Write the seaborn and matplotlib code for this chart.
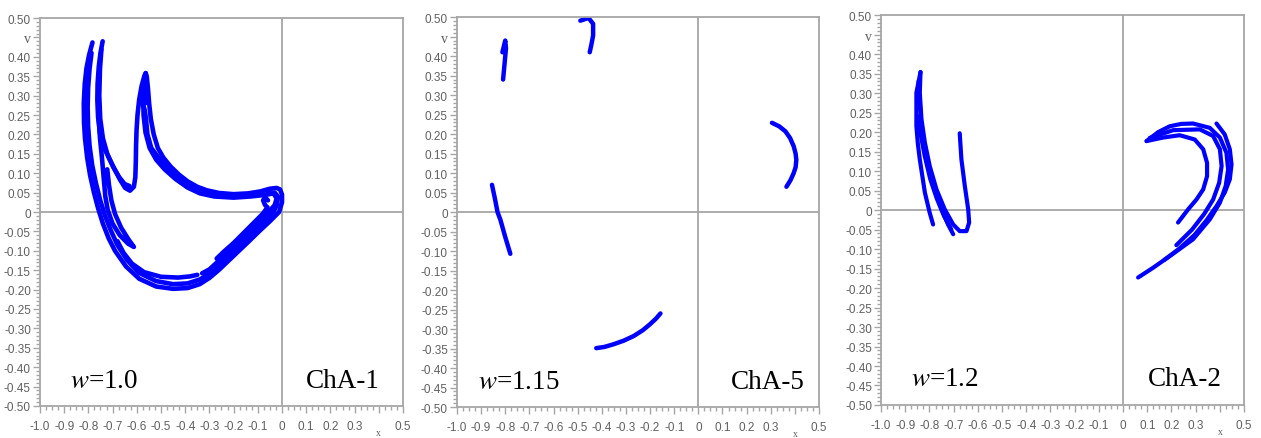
import matplotlib
matplotlib.use("Agg")

import matplotlib.pyplot as plt
import numpy as np
import pandas as pd
import seaborn as sns
from matplotlib.ticker import FixedLocator, MultipleLocator


# ---- data: (x, y) points of each strand ----

# w = 1.0, ChA-1
p1_outer = [
    (-0.783, 0.437), (-0.797, 0.405), (-0.808, 0.37), (-0.815, 0.33), (-0.819, 0.28),
    (-0.818, 0.23), (-0.814, 0.19), (-0.805, 0.14), (-0.793, 0.095), (-0.777, 0.05),
    (-0.76, 0.01), (-0.74, -0.03), (-0.716, -0.068), (-0.69, -0.1), (-0.645, -0.14),
    (-0.59, -0.172), (-0.52, -0.192), (-0.45, -0.198), (-0.39, -0.196), (-0.34, -0.186),
    (-0.30, -0.17), (-0.262, -0.15), (-0.22, -0.125), (-0.178, -0.1), (-0.136, -0.075),
    (-0.095, -0.05), (-0.052, -0.025), (-0.012, 0.0), (0.0, 0.025), (0.0, 0.045),
    (-0.008, 0.058), (-0.022, 0.062), (-0.05, 0.06), (-0.09, 0.053), (-0.14, 0.048),
    (-0.2, 0.046), (-0.26, 0.049), (-0.311, 0.056), (-0.35, 0.065), (-0.39, 0.079),
    (-0.425, 0.096), (-0.46, 0.117), (-0.49, 0.14), (-0.513, 0.165), (-0.53, 0.2),
    (-0.542, 0.24), (-0.549, 0.28), (-0.554, 0.32), (-0.559, 0.35), (-0.563, 0.358),
]
p1_second = [
    (-0.787, 0.41), (-0.795, 0.37), (-0.801, 0.32), (-0.803, 0.27), (-0.801, 0.22),
    (-0.795, 0.17), (-0.784, 0.12), (-0.769, 0.075), (-0.751, 0.03), (-0.731, -0.01),
    (-0.707, -0.048), (-0.68, -0.085), (-0.64, -0.124), (-0.59, -0.157), (-0.52, -0.178),
    (-0.45, -0.186), (-0.39, -0.184), (-0.34, -0.174), (-0.31, -0.163), (-0.285, -0.15),
    (-0.243, -0.125), (-0.2, -0.1), (-0.158, -0.075), (-0.117, -0.05), (-0.075, -0.025),
    (-0.035, 0.0), (-0.02, 0.02), (-0.017, 0.04), (-0.03, 0.05), (-0.06, 0.05),
]
p1_u = [
    (-0.741, 0.44), (-0.75, 0.41), (-0.757, 0.375), (-0.762, 0.33), (-0.763, 0.289),
    (-0.76, 0.245), (-0.752, 0.203), (-0.735, 0.165), (-0.711, 0.134), (-0.69, 0.108),
    (-0.669, 0.083), (-0.648, 0.062), (-0.628, 0.055), (-0.612, 0.065), (-0.606, 0.09),
    (-0.604, 0.13), (-0.603, 0.17), (-0.601, 0.21), (-0.597, 0.25), (-0.59, 0.29),
    (-0.58, 0.325), (-0.568, 0.352), (-0.563, 0.358), (-0.569, 0.33), (-0.573, 0.29),
    (-0.572, 0.25), (-0.564, 0.205), (-0.547, 0.165), (-0.52, 0.135), (-0.485, 0.11),
    (-0.44, 0.085), (-0.39, 0.063), (-0.339, 0.048), (-0.28, 0.04), (-0.2, 0.037),
    (-0.13, 0.04), (-0.07, 0.044), (-0.035, 0.048), (-0.022, 0.035), (-0.03, 0.018),
    (-0.055, 0.0), (-0.097, -0.025), (-0.14, -0.05), (-0.18, -0.075), (-0.22, -0.1),
    (-0.26, -0.125), (-0.3, -0.148), (-0.33, -0.158),
]
p1_u2 = [
    (-0.746, 0.42), (-0.752, 0.37), (-0.755, 0.3), (-0.751, 0.24), (-0.74, 0.19),
    (-0.722, 0.15), (-0.698, 0.117), (-0.673, 0.09), (-0.65, 0.072), (-0.63, 0.067),
]
p1_hook = [
    (-0.757, 0.24), (-0.752, 0.19), (-0.744, 0.14), (-0.737, 0.09), (-0.73, 0.04),
    (-0.72, 0.005), (-0.70, -0.03), (-0.67, -0.06), (-0.635, -0.082), (-0.612, -0.09),
    (-0.635, -0.07), (-0.665, -0.04), (-0.69, -0.005), (-0.705, 0.03), (-0.715, 0.07),
    (-0.722, 0.11),
]
p1_inner_bottom = [
    (-0.68, -0.075), (-0.655, -0.105), (-0.62, -0.133), (-0.57, -0.155), (-0.5, -0.167),
    (-0.43, -0.169), (-0.38, -0.166), (-0.35, -0.162),
]
p1_curl = [
    (-0.058, 0.03), (-0.07, 0.038), (-0.078, 0.03), (-0.07, 0.018), (-0.06, 0.012),
    (-0.08, -0.005), (-0.12, -0.03), (-0.16, -0.055), (-0.2, -0.08), (-0.24, -0.102),
    (-0.27, -0.12),
]
p1_blob = [
    (-0.578, 0.28), (-0.568, 0.265), (-0.562, 0.24), (-0.556, 0.2), (-0.54, 0.165),
    (-0.51, 0.14), (-0.47, 0.113), (-0.42, 0.088), (-0.37, 0.068), (-0.32, 0.055),
    (-0.26, 0.046), (-0.2, 0.042), (-0.13, 0.045), (-0.08, 0.05),
]
p1_spike_top = [(-0.572, 0.335), (-0.566, 0.31), (-0.565, 0.28)]

# w = 1.15, ChA-5
p2_left_top = [(-0.812, 0.41), (-0.80, 0.44), (-0.797, 0.42), (-0.803, 0.38), (-0.809, 0.34)]
p2_top = [(-0.489, 0.491), (-0.455, 0.498), (-0.436, 0.483), (-0.436, 0.453), (-0.443, 0.43), (-0.45, 0.41)]
p2_right = [(0.305, 0.229), (0.335, 0.22), (0.361, 0.207), (0.38, 0.19), (0.395, 0.169),
            (0.403, 0.15), (0.406, 0.134), (0.403, 0.115), (0.395, 0.10), (0.382, 0.082), (0.365, 0.065)]
p2_left = [(-0.855, 0.07), (-0.843, 0.035), (-0.832, 0.0), (-0.82, -0.02), (-0.80, -0.064), (-0.779, -0.107)]
p2_bottom = [(-0.423, -0.349), (-0.39, -0.346), (-0.351, -0.339), (-0.31, -0.33), (-0.268, -0.318),
             (-0.23, -0.303), (-0.199, -0.287), (-0.175, -0.273), (-0.157, -0.26)]

# w = 1.2, ChA-2
p3_loop = [
    (-0.675, 0.197), (-0.668, 0.13), (-0.654, 0.062), (-0.64, 0.002), (-0.636, -0.032),
    (-0.647, -0.054), (-0.675, -0.054), (-0.702, -0.037), (-0.737, 0.002), (-0.771, 0.053),
    (-0.799, 0.113), (-0.819, 0.173), (-0.833, 0.233), (-0.84, 0.301), (-0.837, 0.354),
]
p3_left = [
    (-0.837, 0.354), (-0.854, 0.301), (-0.854, 0.215), (-0.848, 0.17), (-0.84, 0.13),
    (-0.819, 0.045), (-0.799, -0.007), (-0.785, -0.037),
]
p3_middle = [
    (-0.845, 0.33), (-0.84, 0.27), (-0.833, 0.215), (-0.812, 0.13), (-0.785, 0.062),
    (-0.75, 0.002), (-0.723, -0.037), (-0.702, -0.062),
]
p3_middle2 = [
    (-0.845, 0.24), (-0.835, 0.19), (-0.82, 0.14), (-0.797, 0.08), (-0.77, 0.03),
    (-0.74, -0.015), (-0.71, -0.05),
]
p3_top = [
    (0.097, 0.177), (0.145, 0.2), (0.193, 0.215), (0.24, 0.221), (0.289, 0.222),
    (0.358, 0.211), (0.40, 0.186), (0.427, 0.147), (0.434, 0.104), (0.424, 0.062),
    (0.40, 0.019), (0.358, -0.024), (0.289, -0.075), (0.193, -0.118), (0.124, -0.148),
    (0.062, -0.173),
]
p3_outer = [
    (0.386, 0.222), (0.42, 0.194), (0.441, 0.156), (0.448, 0.117), (0.441, 0.079),
    (0.42, 0.045), (0.386, 0.01), (0.345, -0.026), (0.295, -0.064), (0.23, -0.1),
    (0.17, -0.128),
]
p3_middle_r = [
    (0.11, 0.185), (0.207, 0.205), (0.317, 0.207), (0.372, 0.19), (0.40, 0.156),
    (0.407, 0.113), (0.397, 0.07), (0.372, 0.027), (0.335, -0.01), (0.285, -0.05),
    (0.22, -0.09),
]
p3_inner = [
    (0.097, 0.177), (0.165, 0.186), (0.234, 0.192), (0.296, 0.181), (0.331, 0.156),
    (0.347, 0.121), (0.347, 0.087), (0.331, 0.053), (0.303, 0.027), (0.269, 0.002),
    (0.227, -0.032),
]

panel_strands = [
    [p1_outer, p1_second, p1_u, p1_u2, p1_hook, p1_inner_bottom, p1_curl, p1_blob, p1_spike_top],
    [p2_left_top, p2_top, p2_right, p2_left, p2_bottom],
    [p3_loop, p3_left, p3_middle, p3_middle2, p3_top, p3_outer, p3_middle_r, p3_inner],
]
w_labels = ["1.0", "1.15", "1.2"]
cha_labels = ["ChA-1", "ChA-5", "ChA-2"]

x_ticks = [-1.0, -0.9, -0.8, -0.7, -0.6, -0.5, -0.4, -0.3, -0.2, -0.1, 0.0, 0.1, 0.2, 0.3, 0.4, 0.5]
x_tick_labels = ["-1.0", "-0.9", "-0.8", "-0.7", "-0.6", "-0.5", "-0.4", "-0.3", "-0.2", "-0.1",
                 "0", "0.1", "0.2", "0.3", "", "0.5"]
y_ticks = [-0.50, -0.45, -0.40, -0.35, -0.30, -0.25, -0.20, -0.15, -0.10, -0.05, 0.0,
           0.05, 0.10, 0.15, 0.20, 0.25, 0.30, 0.35, 0.40, 0.45, 0.50]
y_tick_labels = ["-0.50", "-0.45", "-0.40", "-0.35", "-0.30", "-0.25", "-0.20", "-0.15", "-0.10",
                 "-0.05", "0", "0.05", "0.10", "0.15", "0.20", "0.25", "0.30", "0.35", "0.40",
                 "v", "0.50"]

BLUE = "#0000ff"
GRID = "#a6a6a6"
LABEL = "#606060"

# axes boxes in figure fractions (left, bottom, width, height)
AXES_BOXES = [
    (0.0317, 0.0729, 0.2879, 0.8838),
    (0.3624, 0.0706, 0.2871, 0.8880),
    (0.6987, 0.0752, 0.2879, 0.8880),
]
W_X = [-0.876, -0.913, -0.877]
CHA_X = [0.405, 0.442, 0.408]


def draw_strands(ax, strands, lw):
    rows = []
    for i, pts in enumerate(strands):
        for x, y in pts:
            rows.append((i, x, y))
    df = pd.DataFrame(rows, columns=["strand", "x", "y"])
    sns.lineplot(
        data=df, x="x", y="y", units="strand", estimator=None, sort=False,
        color=BLUE, linewidth=lw, ax=ax, legend=False,
    )
    for line in ax.lines:
        line.set_solid_capstyle("round")
        line.set_solid_joinstyle("round")


def style_axes(ax):
    ax.set_xlim(-1.0, 0.5)
    ax.set_ylim(-0.5, 0.5)
    ax.set_xlabel("")
    ax.set_ylabel("")
    for sp in ax.spines.values():
        sp.set_color(GRID)
        sp.set_linewidth(1.3)
        sp.set_visible(True)
    ax.axhline(0, color=GRID, lw=1.3, zorder=1)
    ax.axvline(0, color=GRID, lw=1.3, zorder=1)

    ax.xaxis.set_major_locator(FixedLocator(x_ticks))
    ax.set_xticklabels(x_tick_labels)
    ax.yaxis.set_major_locator(FixedLocator(y_ticks))
    ax.set_yticklabels(y_tick_labels)
    ax.xaxis.set_minor_locator(MultipleLocator(0.025))
    ax.yaxis.set_minor_locator(MultipleLocator(0.01))
    ax.tick_params(which="major", direction="out", length=5, width=1, color=GRID,
                   labelcolor=LABEL, labelsize=8.5, pad=1.5,
                   bottom=True, left=True, top=False, right=False)
    ax.tick_params(which="minor", direction="out", length=3, width=1, color=GRID,
                   bottom=True, left=True, top=False, right=False)
    ax.tick_params(axis="x", which="major", pad=5)
    for lab in ax.get_xticklabels() + ax.get_yticklabels():
        lab.set_family(["Liberation Sans Narrow", "Liberation Sans"])
    v_lab = ax.get_yticklabels()[y_tick_labels.index("v")]
    v_lab.set_family("Liberation Serif")
    v_lab.set_fontsize(10)
    ax.text(0.4, -0.079, "x", transform=ax.get_xaxis_transform(), ha="center", va="bottom",
            fontsize=7, color=LABEL, family="Liberation Serif")


def main():
    sns.set_theme(style="white")
    plt.rcParams["font.family"] = ["Liberation Serif", "DejaVu Sans"]
    plt.rcParams["mathtext.fontset"] = "stix"

    fig = plt.figure(figsize=(12.61, 4.39), dpi=100)
    fig.patch.set_facecolor("white")

    widths = [3.3, 3.2, 3.0]
    for k in range(3):
        ax = fig.add_axes(AXES_BOXES[k])
        ax.set_facecolor("white")
        draw_strands(ax, panel_strands[k], widths[k])
        style_axes(ax)
        ax.text(W_X[k], -0.45, "$w$=" + w_labels[k], ha="left", va="baseline",
                fontsize=19.5, color="black", family="Liberation Serif")
        ax.text(CHA_X[k], -0.45, cha_labels[k], ha="right", va="baseline",
                fontsize=19.5, color="black", family="Liberation Serif")

    fig.savefig("out.png", dpi=100, facecolor="white")
    plt.close(fig)


if __name__ == "__main__":
    main()
